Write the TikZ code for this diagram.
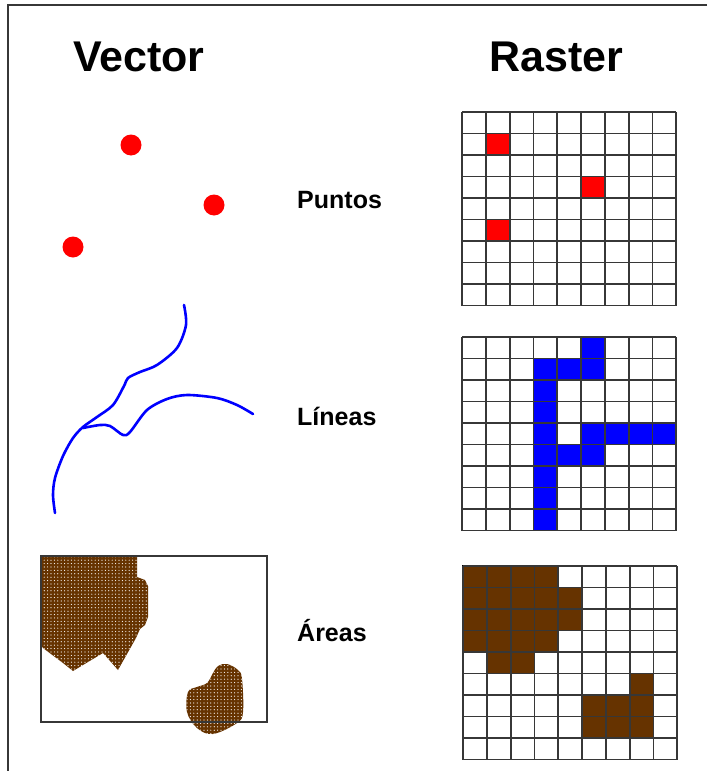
\documentclass[tikz,border=0pt]{standalone}
\usepackage{fontspec}
\setmainfont{Liberation Sans}
\usetikzlibrary{patterns}
\definecolor{cellred}{RGB}{255,0,0}
\definecolor{lineblue}{RGB}{0,0,255}
\definecolor{areabrown}{RGB}{102,51,0}
\definecolor{gridgray}{RGB}{55,55,55}
% white dots on the brown areas
\pgfdeclarepatternformonly{areadots}{\pgfqpoint{-1pt}{-1pt}}{\pgfqpoint{2pt}{2pt}}%
  {\pgfqpoint{3.4pt}{3.4pt}}{\pgfpathcircle{\pgfqpoint{0pt}{0pt}}{0.6pt}\pgfusepath{fill}}
\tikzset{
  gridline/.style={draw=gridgray, line width=1.8pt},
  cellfill/.style={draw=black, line width=1.2pt},
  river/.style={draw=lineblue, line width=2.6pt, line cap=round, line join=round},
  blob/.style={fill=areabrown, postaction={pattern=areadots, pattern color=white}},
  title/.style={font=\fontsize{43}{50}\selectfont\bfseries, anchor=base west, inner sep=0pt},
  kind/.style={font=\fontsize{25}{30}\selectfont\bfseries, anchor=base west, inner sep=0pt},
  rastergrid/.style={x=23.8pt, y=-21.5pt}
}

\begin{document}
\begin{tikzpicture}[x=1pt, y=-1pt]
  \useasboundingbox (0,0) rectangle (707,771);
  \fill[white] (0,0) rectangle (707,771);
  % outer frame, only top and left edges fall on the page
  \draw[gridline] (707,5) -- (8,5) -- (8,771);

  \node[title] (vector) at (73,71) {Vector};
  \node[title] (raster) at (489,71) {Raster};
  \node[kind] (puntos) at (297,208) {Puntos};
  \node[kind] (lineas) at (297,425) {Líneas};
  \node[kind] (areas) at (297,641) {Áreas};

  % vector points
  \foreach \p in {(131,145),(214,205),(73,247)}
    \fill[cellred] \p circle (10.5);

  % vector lines
  \draw[river] plot[smooth, tension=0.5] coordinates {(184,305) (186,325) (177,348)
    (157,365) (140,372) (128,378) (124,386) (113,405) (97,417) (83,427) (73,438)
    (63,456) (55,478) (53,495) (55,513)};
  \draw[river] plot[smooth, tension=0.5] coordinates {(83,428) (100,425) (110,426)
    (123,435) (130,432) (147,410) (167,399) (187,395) (217,398) (237,405) (253,414)};

  % vector areas
  \path[blob] (41,556) -- (137,556) -- (137,577) -- (145,580) -- (148,586) -- (148,617)
    -- (145,625) -- (140,629) -- (136,638) -- (118,670) -- (103,653) -- (73,671)
    -- (63,663) -- (43,648) -- (41,645) -- cycle;
  \path[blob] plot[smooth cycle, tension=0.6] coordinates {(227,664) (238,670) (242,679)
    (243,712) (237,723) (213,734) (197,728) (187,712) (188,692) (197,687) (207,683)
    (213,673) (218,666)};
  \draw[gridline, line width=1.4pt] (41,556) rectangle (267,722);

  % raster points
  \begin{scope}[shift={(462,112)}, rastergrid]
    \foreach \r/\c in {1/1,3/5,5/1}
      \filldraw[fill=cellred, cellfill] (\c,\r) rectangle ++(1,1);
    \foreach \i in {0,...,9} {
      \draw[gridline] (\i,0) -- (\i,9);
      \draw[gridline] (0,\i) -- (9,\i);
    }
  \end{scope}

  % raster lines
  \begin{scope}[shift={(462,337)}, rastergrid]
    \foreach \r/\cs in {0/{5}, 1/{3,4,5}, 2/{3}, 3/{3}, 4/{3,5,6,7,8}, 5/{3,4,5},
        6/{3}, 7/{3}, 8/{3}}
      \foreach \c in \cs
        \filldraw[fill=lineblue, cellfill] (\c,\r) rectangle ++(1,1);
    \foreach \i in {0,...,9} {
      \draw[gridline] (\i,0) -- (\i,9);
      \draw[gridline] (0,\i) -- (9,\i);
    }
  \end{scope}

  % raster areas
  \begin{scope}[shift={(463,566)}, rastergrid]
    \foreach \r/\cs in {0/{0,1,2,3}, 1/{0,1,2,3,4}, 2/{0,1,2,3,4}, 3/{0,1,2,3},
        4/{1,2}, 5/{7}, 6/{5,6,7}, 7/{5,6,7}}
      \foreach \c in \cs
        \filldraw[fill=areabrown, cellfill] (\c,\r) rectangle ++(1,1);
    \foreach \i in {0,...,9} {
      \draw[gridline] (\i,0) -- (\i,9);
      \draw[gridline] (0,\i) -- (9,\i);
    }
  \end{scope}
\end{tikzpicture}
\end{document}
